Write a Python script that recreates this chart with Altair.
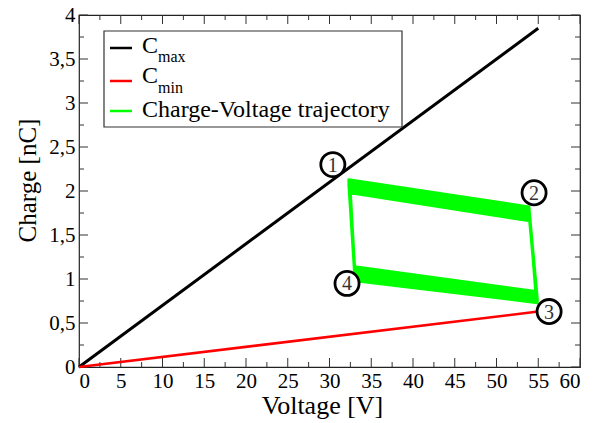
import altair as alt
import pandas as pd

# ---------------- data ----------------
x_major = [0, 5, 10, 15, 20, 25, 30, 35, 40, 45, 50, 55, 60]
x_minor = [2.5, 7.5, 12.5, 17.5, 22.5, 27.5, 32.5, 37.5, 42.5, 47.5, 52.5, 57.5]
y_major = [0, 0.5, 1, 1.5, 2, 2.5, 3, 3.5, 4]
y_minor = [0.25, 0.75, 1.25, 1.75, 2.25, 2.75, 3.25, 3.75]

cmax_v = [0, 55.0]
cmax_q = [0, 3.85]
cmin_v = [0, 55.0]
cmin_q = [0, 0.63]

# trajectory cycles: corner points 1 (top-left), 2 (top-right), 3 (bottom-right), 4 (bottom-left)
c1_v = [32.5, 32.5, 32.4, 32.4, 32.4, 32.3, 32.3, 32.3]
c1_q = [1.98, 2.00, 2.02, 2.04, 2.06, 2.08, 2.11, 2.13]
c2_v = [54.0, 54.0, 54.0, 53.9, 53.9, 53.9, 53.9, 53.9]
c2_q = [1.66, 1.68, 1.70, 1.72, 1.74, 1.76, 1.79, 1.82]
c3_v = [54.9, 54.9, 54.9, 54.8, 54.8, 54.8, 54.7, 54.7]
c3_q = [0.73, 0.75, 0.77, 0.79, 0.80, 0.82, 0.84, 0.86]
c4_v = [33.1, 33.1, 33.1, 33.0, 33.0, 33.0, 33.0, 33.0]
c4_q = [0.98, 1.00, 1.02, 1.04, 1.06, 1.08, 1.11, 1.14]

marker_labels = ["1", "2", "3", "4"]
marker_v = [30.4, 54.5, 56.3, 32.1]
marker_q = [2.30, 1.98, 0.63, 0.95]

legend_main = ["C", "C", "Charge-Voltage trajectory"]
legend_sub = ["max", "min", ""]
legend_colors = ["#000000", "#ff0000", "#00ff00"]

FONT = "Liberation Serif, Times New Roman, serif"
W, H = 501, 352

# ---------------- tables ----------------
traj_rows = []
o = 0
for k in range(len(c1_v)):
    for vv, qq in [(c1_v[k], c1_q[k]), (c2_v[k], c2_q[k]), (c3_v[k], c3_q[k]), (c4_v[k], c4_q[k])]:
        traj_rows.append({"v": vv, "q": qq, "o": o})
        o += 1
traj_rows.append({"v": c1_v[-1], "q": c1_q[-1], "o": o})
traj = pd.DataFrame(traj_rows)

xs = alt.Scale(domain=[0, 60], nice=False, zero=False)
ys = alt.Scale(domain=[0, 4], nice=False, zero=False)

x_axis = alt.Axis(values=x_major, ticks=False, tickSize=0, domain=False, grid=False,
                  labelFont=FONT, labelFontSize=21, labelColor="#000", labelPadding=3,
                  title="Voltage [V]", titleFont=FONT, titleFontSize=26, titleFontWeight="normal",
                  titleColor="#000", titlePadding=1, titleX=243)
y_axis = alt.Axis(values=y_major, ticks=False, tickSize=0, domain=False, grid=False,
                  labelFont=FONT, labelFontSize=21, labelColor="#000", labelPadding=4,
                  labelExpr="replace(toString(datum.value), '.', ',')",
                  title="Charge [nC]", titleFont=FONT, titleFontSize=25, titleFontWeight="normal",
                  titleColor="#000", titlePadding=8, titleY=165)

X = lambda: alt.X("v:Q", scale=xs, axis=x_axis)
Y = lambda: alt.Y("q:Q", scale=ys, axis=y_axis)

layers = []

# inward ticks on all four sides
xt_major = pd.DataFrame({"v": x_major})
xt_minor = pd.DataFrame({"v": x_minor})
yt_major = pd.DataFrame({"q": y_major})
yt_minor = pd.DataFrame({"q": y_minor})
tick_col = "#333"
for df, ln in [(xt_major, 9), (xt_minor, 5)]:
    layers.append(alt.Chart(df).mark_rule(color=tick_col, strokeWidth=1).encode(
        x=X(), y=alt.value(H), y2=alt.value(H - ln)))
    layers.append(alt.Chart(df).mark_rule(color=tick_col, strokeWidth=1).encode(
        x=X(), y=alt.value(0), y2=alt.value(ln)))
for df, ln in [(yt_major, 9), (yt_minor, 5)]:
    layers.append(alt.Chart(df).mark_rule(color=tick_col, strokeWidth=1).encode(
        y=Y(), x=alt.value(0), x2=alt.value(ln)))
    layers.append(alt.Chart(df).mark_rule(color=tick_col, strokeWidth=1).encode(
        y=Y(), x=alt.value(W), x2=alt.value(W - ln)))

# Cmax / Cmin lines
layers.append(alt.Chart(pd.DataFrame({"v": cmax_v, "q": cmax_q})).mark_line(
    color="#000000", strokeWidth=3).encode(x=X(), y=Y()))
layers.append(alt.Chart(pd.DataFrame({"v": cmin_v, "q": cmin_q})).mark_line(
    color="#ff0000", strokeWidth=2.5).encode(x=X(), y=Y()))

# trajectory
layers.append(alt.Chart(traj).mark_line(
    color="#00ff00", strokeWidth=2.8, strokeJoin="round").encode(
    x=X(), y=Y(), order="o:Q"))

# circled markers
mk = pd.DataFrame({"v": marker_v, "q": marker_q, "t": marker_labels})
layers.append(alt.Chart(mk).mark_point(
    shape="circle", size=580, filled=False, fill="white", fillOpacity=1,
    stroke="#000", strokeWidth=2.8, opacity=1).encode(x=X(), y=Y()))
layers.append(alt.Chart(mk).mark_text(
    font=FONT, fontSize=20, color="#333", baseline="middle", align="center", dy=1).encode(
    x=X(), y=Y(), text="t:N"))

# legend box
one = pd.DataFrame({"a": [0]})
layers.append(alt.Chart(one).mark_rect(fill="white", stroke="#333", strokeWidth=1.2).encode(
    x=alt.value(25), x2=alt.value(323), y=alt.value(16), y2=alt.value(112)))
rows_y = [33, 66, 96]
main_base = [38, 68, 102]
sub_base = [47, 78, 0]
for i in range(3):
    layers.append(alt.Chart(one).mark_rule(color=legend_colors[i], strokeWidth=2.5).encode(
        x=alt.value(31), x2=alt.value(53), y=alt.value(rows_y[i])))
    layers.append(alt.Chart(one).mark_text(
        font=FONT, fontSize=24, color="#000", align="left", baseline="alphabetic",
        text=legend_main[i]).encode(x=alt.value(63), y=alt.value(main_base[i])))
    if legend_sub[i]:
        layers.append(alt.Chart(one).mark_text(
            font=FONT, fontSize=16, color="#000", align="left", baseline="alphabetic",
            text=legend_sub[i]).encode(x=alt.value(79), y=alt.value(sub_base[i])))

chart = alt.layer(*layers).properties(
    width=W, height=H,
    autosize=alt.AutoSizeParams(type="none"),
    padding={"left": 79, "top": 15, "right": 22, "bottom": 56},
    background="white",
).configure_view(stroke="#222", strokeWidth=1.2)

chart.save("out.html", embed_options={"renderer": "svg", "actions": False})
